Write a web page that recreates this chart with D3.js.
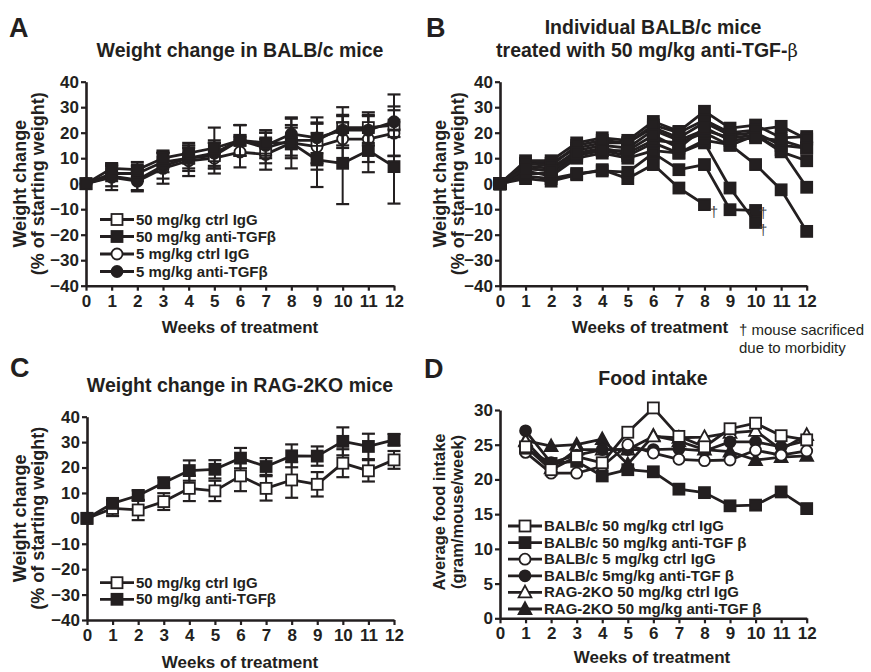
<!DOCTYPE html>
<html><head><meta charset="utf-8">
<script src="https://cdn.jsdelivr.net/npm/d3@7"></script>
<style>
body{margin:0;background:#fff}
text{font-family:"Liberation Sans",Arial,Helvetica,sans-serif}
</style>
</head><body>
<svg id="chart" width="871" height="672"></svg>
<script>
// ---------- DATA ----------
const weeks = [0,1,2,3,4,5,6,7,8,9,10,11,12];
const foodWeeks = [1,2,3,4,5,6,7,8,9,10,11,12];
const weightTicks = [-40,-30,-20,-10,0,10,20,30,40];
const foodTicks = [0,5,10,15,20,25,30];

// Panel A: BALB/c mean weight change (%) and error
const aCtrl50 = [0,4,4,8.5,10,11,17,14,17,17,22,22,23];
const aCtrl50Err = [0,3,3,4,4,5,6,6,6,9,8,6,12];
const aAnti50 = [0,6,5.5,10,12,14,17,16,16,9.3,8,13,6.7];
const aAnti50Err = [0,2,3,3,4,8,6,5,6,10.6,16,8.5,14.5];
const aCtrl5 = [0,2.5,1,6,9,10,12.4,11.5,16,14.5,17.5,17.5,19.8];
const aCtrl5Err = [0,5,4,6,6,6,6,6,10,9,9,9,9];
const aAnti5 = [0,3,1.5,7,10,12,17,15,19.5,18,21,21,24.3];
const aAnti5Err = [0,4,4,5,5,5,6,5,6,6,6,6,6];
const aLabels = ["50 mg/kg ctrl IgG","50 mg/kg anti-TGF\u03B2","5 mg/kg ctrl IgG","5 mg/kg anti-TGF\u03B2"];

// Panel B: individual mice (50 mg/kg anti-TGF-beta)
const mouse1 = [0,2,1,3.5,5.5,2,7.5,-1.7,-8.2];
const mouse2 = [0,3,2,4,5,4.5,12,5.5,7.5,-10.2,-10.5];
const mouse3 = [0,5,3,10,12,10,13,12,16,-1.7,-15.2];
const mouse4 = [0,4,4,11,13,11,16,12,17,15.3,7.5,-2.4,-18.7];
const mouse5 = [0,6,5,12,14,12,17,16,20,15,19,13.3,-1.4];
const mouse6 = [0,7,6,13,15,14,21,17,21,18,19,12.5,9];
const mouse7 = [0,8,8,14,16,16,22,18,24,19,20,15,14];
const mouse8 = [0,9,9,16,18,17,24.4,20.5,28.4,21.8,23,18,18.5];
const mouse9 = [0,8,7,15,17,16,23,20,25,20,21,22.5,17.5];
const mouse10 = [0,6,5,12,13,13,19,14,22,17,18,17,14];
// sacrificed mice markers: [week, value]
const daggerWeeks = [8.37,10.3,10.3];
const daggerValues = [-13,-13.5,-20];

// Panel C: RAG-2KO
const cCtrl50 = [0,3.9,3.3,6.6,11.8,10.8,16.7,11.8,15.1,13.4,21.7,18.7,23];
const cCtrl50Err = [0,3,4,3.3,5,4,6,4.8,7,4.8,5.5,4.2,3.5];
const cAnti50 = [0,5.9,9,14,18.8,19.3,23.7,20.4,24.6,24.5,30.3,28.3,30.9];
const cAnti50Err = [0,1.5,2,2,4,3.6,4,3.3,4.5,3.8,5.5,5,2.3];
const cLabels = ["50 mg/kg ctrl IgG","50 mg/kg anti-TGF\u03B2"];

// Panel D: food intake (gram/mouse/week), weeks 1-12
const dBalbCtrl50 = [24.7,21.4,23.3,22.4,26.8,30.3,26.2,24.7,27.3,28.1,26.3,25.7];
const dBalbAnti50 = [24.5,22.3,22.6,20.5,21.4,21.1,18.6,18.1,16.2,16.3,18.2,15.8];
const dBalbCtrl5 = [23.9,20.9,20.9,21.9,25.0,23.8,22.9,22.7,22.8,24.2,23.5,24.1];
const dBalbAnti5 = [27.0,22.4,23.5,24.3,24.3,24.3,24.4,24.1,25.4,25.4,24.7,25.6];
const dRagCtrl50 = [25.5,21.6,24.3,24.3,24.3,26.2,26.0,26.1,26.7,27.0,24.3,26.4];
const dRagAnti50 = [25.6,24.8,25.0,25.8,22.2,26.3,25.5,24.3,24.0,22.8,23.2,23.4];
const dLabels = ["BALB/c 50 mg/kg ctrl IgG","BALB/c 50 mg/kg anti-TGF \u03B2","BALB/c 5 mg/kg ctrl IgG",
  "BALB/c 5mg/kg anti-TGF \u03B2","RAG-2KO 50 mg/kg ctrl IgG","RAG-2KO 50 mg/kg anti-TGF \u03B2"];

// ---------- DRAWING ----------
const INK = "#231f20";
const svg = d3.select("#chart");

function marker(g, type, cx, cy, filled){
  const fill = filled ? INK : "#fff";
  if(type==="square"){
    g.append("rect").attr("x",cx-5.5).attr("y",cy-5.5).attr("width",11).attr("height",11)
      .attr("fill",fill).attr("stroke",INK).attr("stroke-width",1.8);
  } else if(type==="circle"){
    g.append("circle").attr("cx",cx).attr("cy",cy).attr("r",5.5)
      .attr("fill",fill).attr("stroke",INK).attr("stroke-width",1.8);
  } else {
    g.append("path").attr("d",`M${cx},${cy-6.8}L${cx+6.4},${cy+5}L${cx-6.4},${cy+5}Z`)
      .attr("fill",fill).attr("stroke",INK).attr("stroke-width",1.8).attr("stroke-linejoin","miter");
  }
}

function axes(g, x, y, yTicks, xTicks){
  const ya = g.append("g").attr("transform",`translate(${x.range()[0]},0)`)
    .call(d3.axisLeft(y).tickValues(yTicks).tickSize(5).tickSizeOuter(0).tickPadding(2).tickFormat(d3.format("d")));
  const xa = g.append("g").attr("transform",`translate(0,${y.range()[0]})`)
    .call(d3.axisBottom(x).tickValues(xTicks).tickSize(5).tickSizeOuter(0).tickPadding(4).tickFormat(d3.format("d")));
  [ya,xa].forEach(a=>{
    a.select(".domain").attr("stroke",INK).attr("stroke-width",2.6);
    a.selectAll(".tick line").attr("stroke",INK).attr("stroke-width",2.2);
    a.selectAll(".tick text").attr("fill",INK).attr("font-size",17).attr("font-weight","bold")
      .style("font-family",'"Liberation Sans",Arial,sans-serif');
  });
}

function yLabel(g, lines, cx, cy, size){
  lines.forEach((t,i)=>{
    g.append("text").attr("transform",`translate(${cx[i]},${cy}) rotate(-90)`)
      .attr("text-anchor","middle").attr("font-size",size).attr("font-weight","bold")
      .attr("fill",INK).text(t);
  });
}

function xLabel(g, t, cx, by){
  g.append("text").attr("x",cx).attr("y",by).attr("text-anchor","middle")
    .attr("font-size",17).attr("font-weight","bold").attr("fill",INK).text(t);
}

function title(g, t, cx, by){
  return g.append("text").attr("x",cx).attr("y",by).attr("text-anchor","middle")
    .attr("font-size",19.5).attr("font-weight","bold").attr("fill",INK).text(t);
}
function letter(g, t, lx, by){
  g.append("text").attr("x",lx).attr("y",by).attr("font-size",27).attr("font-weight","bold")
    .attr("fill",INK).text(t);
}

function series(g, x, y, xs, vals, errs, type, filled){
  const pts = xs.map((w,i)=>({w, v:vals[i], e: errs ? errs[i] : 0})).filter(d=>d.v!==undefined);
  if(errs){
    pts.filter(d=>d.e>0).forEach(d=>{
      const px = x(d.w);
      g.append("line").attr("x1",px).attr("x2",px).attr("y1",y(d.v-d.e)).attr("y2",y(d.v+d.e))
        .attr("stroke",INK).attr("stroke-width",2);
      [d.v-d.e, d.v+d.e].forEach(v=>{
        g.append("line").attr("x1",px-6.5).attr("x2",px+6.5).attr("y1",y(v)).attr("y2",y(v))
          .attr("stroke",INK).attr("stroke-width",2.2);
      });
    });
  }
  g.append("path").datum(pts).attr("fill","none").attr("stroke",INK).attr("stroke-width",2.8)
    .attr("stroke-linejoin","round")
    .attr("d",d3.line().x(d=>x(d.w)).y(d=>y(d.v)));
  pts.forEach(d=>marker(g,type,x(d.w),y(d.v),filled));
}

function legend(g, items, lx, rowsY, fontSize){
  items.forEach((it,i)=>{
    const yy = rowsY[i];
    g.append("line").attr("x1",lx).attr("x2",lx+34).attr("y1",yy).attr("y2",yy)
      .attr("stroke",INK).attr("stroke-width",2.8);
    marker(g,it.type,lx+17,yy,it.filled);
    g.append("text").attr("x",lx+36).attr("y",yy+5).attr("font-size",fontSize)
      .attr("font-weight","bold").attr("fill",INK).text(it.label);
  });
}

// ---- Panel A ----
{
  const g = svg.append("g");
  const x = d3.scaleLinear().domain([0,12]).range([86,394]);
  const y = d3.scaleLinear().domain([-40,40]).range([285.7,81.7]);
  axes(g,x,y,weightTicks,weeks);
  series(g,x,y,weeks,aCtrl5,aCtrl5Err,"circle",false);
  series(g,x,y,weeks,aCtrl50,aCtrl50Err,"square",false);
  series(g,x,y,weeks,aAnti5,aAnti5Err,"circle",true);
  series(g,x,y,weeks,aAnti50,aAnti50Err,"square",true);
  legend(g,[{type:"square",filled:false,label:aLabels[0]},{type:"square",filled:true,label:aLabels[1]},
            {type:"circle",filled:false,label:aLabels[2]},{type:"circle",filled:true,label:aLabels[3]}],
         100,[219.5,236.5,254,271.5],15);
  yLabel(g,["Weight change","(% of starting weight)"],[26,44],183.7,18);
  xLabel(g,"Weeks of treatment",240,333);
  title(g,"Weight change in BALB/c mice",240,57);
  letter(g,"A",9,37);
}

// ---- Panel B ----
{
  const g = svg.append("g");
  const x = d3.scaleLinear().domain([0,12]).range([500,806.7]);
  const y = d3.scaleLinear().domain([-40,40]).range([285.7,81.7]);
  axes(g,x,y,weightTicks,weeks);
  [mouse1,mouse2,mouse3,mouse4,mouse5,mouse6,mouse7,mouse8,mouse9,mouse10].forEach(m=>{
    series(g,x,y,weeks.slice(0,m.length),m,null,"square",true);
  });
  daggerWeeks.forEach((w,i)=>{
    g.append("text").attr("x",x(w)).attr("y",y(daggerValues[i])).attr("text-anchor","middle")
      .attr("font-size",15).attr("fill","#444").text("\u2020");
  });
  yLabel(g,["Weight change","(% of starting weight)"],[446,464],183.7,18);
  xLabel(g,"Weeks of treatment",650,333);
  g.append("text").attr("x",739).attr("y",335).attr("font-size",15).attr("fill",INK).text("\u2020  mouse sacrificed");
  g.append("text").attr("x",739).attr("y",353).attr("font-size",15).attr("fill",INK).text("due to morbidity");
  title(g,"Individual BALB/c mice",653,34);
  const t2 = title(g,"treated with 50 mg/kg anti-TGF-",647,57);
  t2.append("tspan").attr("font-weight","normal").style("font-family",'"DejaVu Serif","Liberation Serif",serif')
    .attr("font-size",18).text("\u03B2");
  letter(g,"B",426,37);
}

// ---- Panel C ----
{
  const g = svg.append("g");
  const x = d3.scaleLinear().domain([0,12]).range([87,394]);
  const y = d3.scaleLinear().domain([-40,40]).range([620,416.7]);
  axes(g,x,y,weightTicks,weeks);
  series(g,x,y,weeks,cCtrl50,cCtrl50Err,"square",false);
  series(g,x,y,weeks,cAnti50,cAnti50Err,"square",true);
  legend(g,[{type:"square",filled:false,label:cLabels[0]},{type:"square",filled:true,label:cLabels[1]}],
         100,[582.7,599.3],15);
  yLabel(g,["Weight change","(% of starting weight)"],[26,44],518.3,18);
  xLabel(g,"Weeks of treatment",240,668);
  title(g,"Weight change in RAG-2KO mice",240,392);
  letter(g,"C",10,377);
}

// ---- Panel D ----
{
  const g = svg.append("g");
  const x = d3.scaleLinear().domain([0,12]).range([500,806.7]);
  const y = d3.scaleLinear().domain([0,30]).range([618.3,410]);
  axes(g,x,y,foodTicks,weeks);
  series(g,x,y,foodWeeks,dRagAnti50,null,"triangle",true);
  series(g,x,y,foodWeeks,dRagCtrl50,null,"triangle",false);
  series(g,x,y,foodWeeks,dBalbAnti5,null,"circle",true);
  series(g,x,y,foodWeeks,dBalbCtrl5,null,"circle",false);
  series(g,x,y,foodWeeks,dBalbAnti50,null,"square",true);
  series(g,x,y,foodWeeks,dBalbCtrl50,null,"square",false);
  const types=[["square",false],["square",true],["circle",false],["circle",true],["triangle",false],["triangle",true]];
  legend(g,types.map((t,i)=>({type:t[0],filled:t[1],label:dLabels[i]})),508,
         [526,542.6,559.2,575.8,592.4,609],15);
  yLabel(g,["Average food intake","(gram/mouse/week)"],[445,463],512,16.5);
  xLabel(g,"Weeks of treatment",652,663);
  title(g,"Food intake",653,385);
  letter(g,"D",424,378);
}
</script>
</body></html>
